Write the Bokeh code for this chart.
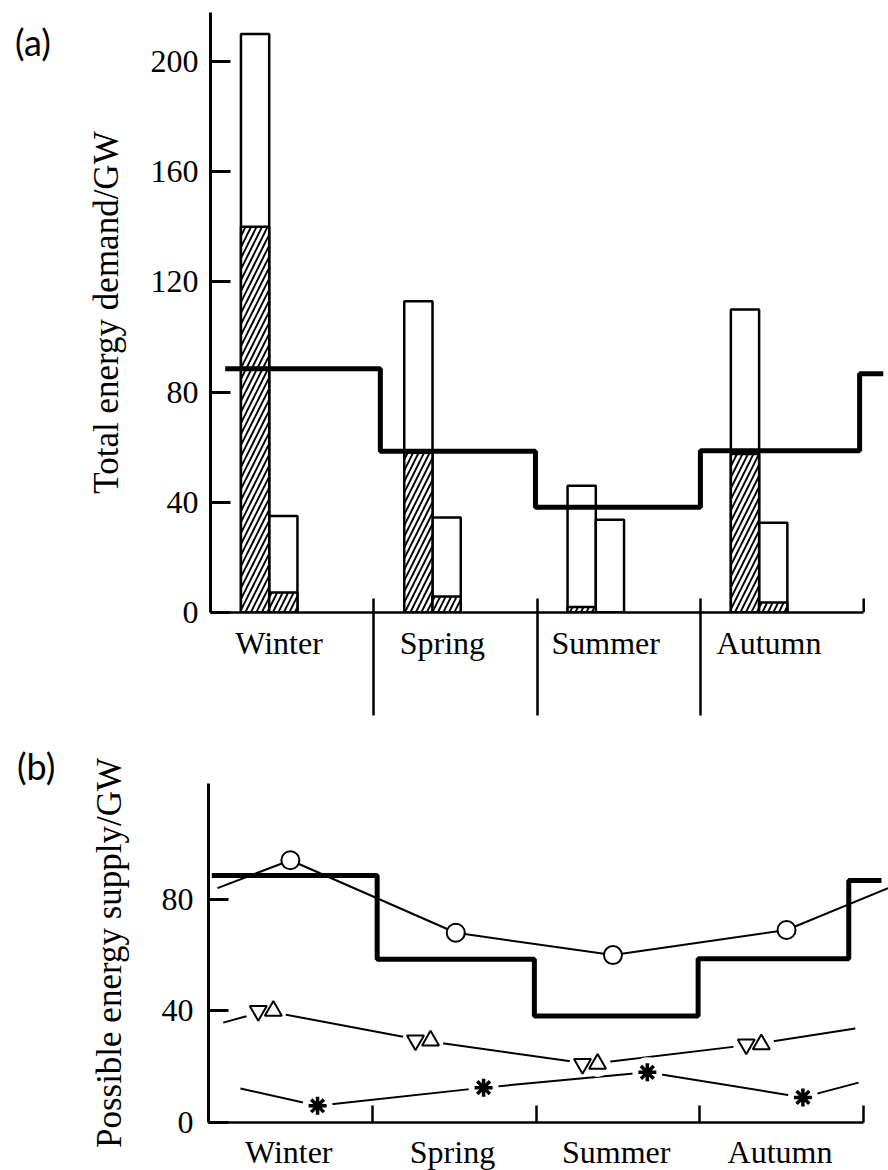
from bokeh.plotting import figure
from bokeh.layouts import column, row
from bokeh.models import FixedTicker, Range1d, Div
from bokeh.embed import file_html
from bokeh.resources import INLINE

# ---------------- data ----------------
seasons = ["Winter", "Spring", "Summer", "Autumn"]
ticks_a = [0, 40, 80, 120, 160, 200]
ticks_b = [0, 40, 80]

# (a) total energy demand bars (GW)
big_total = [210, 113, 46, 110]
big_hatched = [140, 58, 2, 57.5]
small_total = [35, 34.5, 33.7, 32.6]
small_hatched = [7.3, 5.8, 0, 3.6]

# mean demand step line (GW)
step_levels = [88.5, 58.5, 38.2, 58.7, 86.7]
step_edges_a = [0.09, 1.04, 1.99, 3.0, 3.975, 4.12]
step_edges_b = [0.02, 1.03, 1.99, 2.99, 3.91, 4.11]

# (b) possible energy supply series (GW)
circ_x = [0.055, 0.5, 1.51, 2.47, 3.53, 4.15]
circ_y = [84, 94, 68, 60, 69, 84]
tri_x = [0.09, 0.35, 1.31, 2.33, 3.33, 3.95]
tri_y = [35.8, 40, 29.4, 21, 28, 33.7]
star_x = [0.195, 0.666, 1.68, 2.68, 3.63, 3.97]
star_y = [12.2, 6, 12.5, 18, 9, 14.3]

SERIF = "Liberation Serif"
SANS = "Lato"
DIV_W = 58


def base_fig(frame_w, frame_h, border_left, border_top, border_bottom, xr, yr):
    p = figure(frame_width=frame_w, frame_height=frame_h,
               x_range=Range1d(*xr), y_range=Range1d(*yr),
               output_backend="svg", toolbar_location=None,
               min_border_left=border_left, min_border_right=0,
               min_border_top=border_top, min_border_bottom=border_bottom)
    p.outline_line_color = None
    p.xgrid.visible = False
    p.ygrid.visible = False
    p.background_fill_color = "white"
    p.border_fill_color = "white"
    for ax in (p.xaxis[0], p.yaxis[0]):
        ax.axis_line_color = "black"
        ax.major_label_text_font = SERIF
        ax.major_label_text_font_size = "32px"
        ax.major_label_text_color = "black"
        ax.axis_label_text_font = SERIF
        ax.axis_label_text_font_size = "35px"
        ax.axis_label_text_font_style = "normal"
        ax.axis_label_text_color = "black"
    p.yaxis[0].axis_line_width = 3
    p.xaxis[0].axis_line_width = 2.5
    return p


def panel_tag(text, height, left, top):
    html = ('<div style="position:relative; left:%dpx; top:%dpx; font-family:%s; '
            'font-size:36px; line-height:1; color:black; white-space:nowrap;">%s</div>') % (left, top, SANS, text)
    return Div(text=html, width=DIV_W, height=height, margin=0)


# ---------------- panel (a) ----------------
pxa = 163.3
pya = 2.755
A_TOP = 12
A_FRAME_H = 600
A_BOTTOM = 116
A_H = A_TOP + A_FRAME_H + A_BOTTOM
pa = base_fig(678, A_FRAME_H, 210 - DIV_W, A_TOP, A_BOTTOM, (0, 678 / pxa), (0, A_FRAME_H / pya))

big_x = [i + 0.273 for i in range(4)]
small_x = [i + 0.446 for i in range(4)]
bw = 0.173
pa.vbar(x=big_x, top=big_total, width=bw, fill_color="white", line_color="black", line_width=2.5)
pa.vbar(x=small_x, top=small_total, width=bw, fill_color="white", line_color="black", line_width=2.5)
pa.vbar(x=big_x, top=big_hatched, width=bw, fill_color="white", line_color="black", line_width=2.5,
        hatch_pattern="/", hatch_color="black", hatch_scale=11, hatch_weight=1.9)
pa.vbar(x=small_x, top=small_hatched, width=bw, fill_color="white", line_color="black", line_width=2.5,
        hatch_pattern="/", hatch_color="black", hatch_scale=11, hatch_weight=1.9)
pa.step(x=step_edges_a, y=step_levels + [step_levels[-1]], mode="after", line_color="black", line_width=5)
# short closing tick at the right end of the axis
pa.segment(x0=[4], y0=[0], x1=[4], y1=[14 / pya], line_color="black", line_width=2.5)

xa = pa.xaxis[0]
xa.bounds = (0, 4)
lab_a = [i + 0.42 for i in range(4)]
xa.ticker = FixedTicker(ticks=lab_a, minor_ticks=[1, 2, 3])
xa.major_label_overrides = {t: s for t, s in zip(lab_a, seasons)}
xa.major_tick_line_color = None
xa.major_tick_in = 0
xa.major_tick_out = 0
xa.minor_tick_line_color = "black"
xa.minor_tick_line_width = 2.5
xa.minor_tick_in = 14
xa.minor_tick_out = 103
xa.major_label_standoff = -91

ya = pa.yaxis[0]
ya.ticker = FixedTicker(ticks=ticks_a)
ya.major_tick_in = 20
ya.major_tick_out = 0
ya.major_tick_line_width = 3
ya.minor_tick_line_color = None
ya.major_label_standoff = 12
ya.axis_label = "Total energy demand/GW"
ya.axis_label_standoff = 22

tag_a = panel_tag("(a)", A_H, 15, 24)

# ---------------- panel (b) ----------------
pxb = 163.75
pyb = 2.79
B_TOP = 55
B_FRAME_H = 339
B_BOTTOM = 48
B_H = B_TOP + B_FRAME_H + B_BOTTOM
pb = base_fig(680, B_FRAME_H, 208 - DIV_W, B_TOP, B_BOTTOM, (0, 680 / pxb), (0, B_FRAME_H / pyb))

pb.line(circ_x, circ_y, line_color="black", line_width=2)
pb.line(tri_x, tri_y, line_color="black", line_width=2)
pb.line(star_x, star_y, line_color="black", line_width=2)

tri_mx = tri_x[1:-1]
tri_my = tri_y[1:-1]
dx = 0.046
star_mx = star_x[1:-1]
star_my = star_y[1:-1]
# white gaps around the markers
pb.scatter([x - dx for x in tri_mx] + [x + dx for x in tri_mx], tri_my + tri_my, marker="circle",
           size=26, fill_color="white", line_color=None)
pb.scatter(star_mx, star_my, marker="circle", size=30, fill_color="white", line_color=None)

pb.scatter(circ_x[1:-1], circ_y[1:-1], marker="circle", size=18, fill_color="white",
           line_color="black", line_width=2)
pb.scatter([x - dx for x in tri_mx], tri_my, marker="inverted_triangle", size=17,
           fill_color="white", line_color="black", line_width=2)
pb.scatter([x + dx for x in tri_mx], tri_my, marker="triangle", size=17,
           fill_color="white", line_color="black", line_width=2)
pb.scatter(star_mx, star_my, marker="asterisk", size=18, line_color="black", line_width=3.5)

pb.step(x=step_edges_b, y=step_levels + [step_levels[-1]], mode="after", line_color="black", line_width=5)

xb = pb.xaxis[0]
xb.bounds = (0, 4)
lab_b = [i + 0.49 for i in range(4)]
xb.ticker = FixedTicker(ticks=lab_b, minor_ticks=[1, 2, 3, 4])
xb.major_label_overrides = {t: s for t, s in zip(lab_b, seasons)}
xb.major_tick_line_color = None
xb.major_tick_in = 0
xb.major_tick_out = 0
xb.minor_tick_line_color = "black"
xb.minor_tick_line_width = 2.5
xb.minor_tick_in = 17
xb.minor_tick_out = 0
xb.major_label_standoff = 11

yb = pb.yaxis[0]
yb.ticker = FixedTicker(ticks=ticks_b)
yb.major_tick_in = 20
yb.major_tick_out = 0
yb.major_tick_line_width = 3
yb.minor_tick_line_color = None
yb.major_label_standoff = 15
yb.axis_label = "Possible energy supply/GW"
yb.axis_label_standoff = 30

tag_b = panel_tag("(b)", B_H, 17, 20)

layout = column(row(tag_a, pa, spacing=0), row(tag_b, pb, spacing=0), spacing=0)
open("out.html", "w").write(file_html(layout, INLINE))
